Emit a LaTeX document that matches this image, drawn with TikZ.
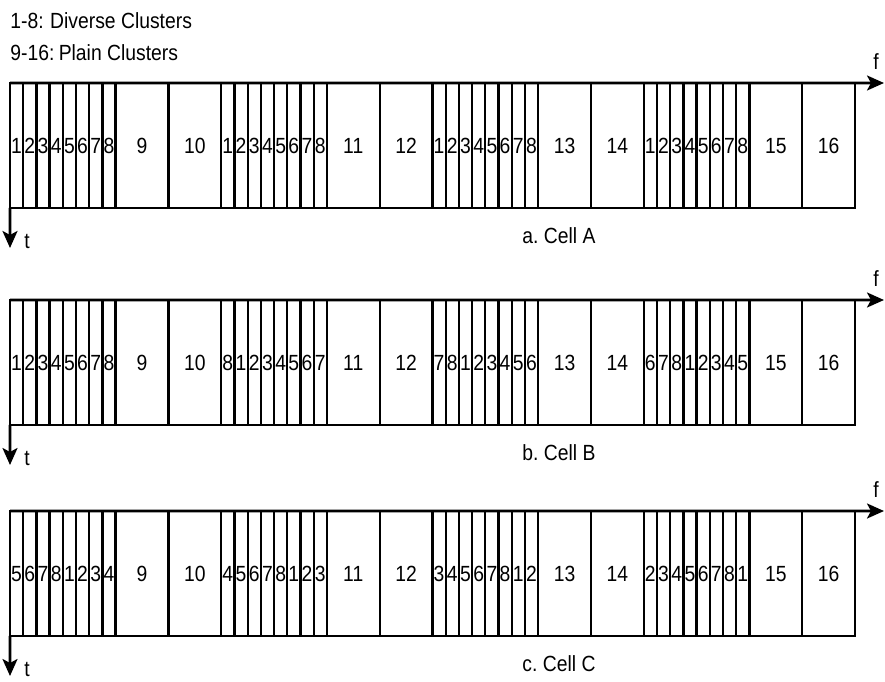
\documentclass[tikz,border=0pt]{standalone}
\usepackage{fontspec}
\setmainfont{Liberation Sans}[FakeStretch = 0.88]
\usetikzlibrary{arrows.meta}

\begin{document}
\begin{tikzpicture}[x = 0.02cm, y = -0.02cm,
  font = \fontsize{12.5}{14}\selectfont,
  cell/.style = {rectangle, draw, line width = 1.3pt, inner sep = 0pt, outer sep = 0pt, minimum height = 2.5cm, text height = 9pt, text depth = 0pt},
  narrowcell/.style = {cell, minimum width = 0.264cm},
  widecell/.style = {cell, minimum width = 1.056cm},
  axis/.style = {-{Stealth[length = 3.4mm, width = 3mm, inset = 0.8mm]}, line width = 1.5pt}]

\useasboundingbox (0, 0) rectangle (885, 682);

%%% Legend
\node[anchor = west, inner sep = 0pt] (legdiverse) at (10, 21) {1-8:\hspace{0.3em}Diverse Clusters};
\node[anchor = west, inner sep = 0pt] (legplain) at (10, 53) {9-16:\hspace{0.2em}Plain Clusters};

%%% Cells A, B, C
\foreach \cellrow/\ytop/\fst/\dsh/\celltext in {A/83/1/0/a.\ Cell A, B/300/1/1/b.\ Cell B, C/511/5/1/c.\ Cell C} {

  \foreach \p in {0, 1, 2, 3} {
    %% diverse clusters
    \foreach \k in {0, ..., 7} {
      \pgfmathtruncatemacro{\lab}{mod(\k + \fst - 1 - \dsh * \p + 16, 8) + 1}
      \node[narrowcell] (\cellrow-\p-\k) at ({10 + 211.25 * \p + 13.2 * (\k + 0.5)}, \ytop + 62.5) {\lab};
    }
    %% plain clusters
    \foreach \j in {0, 1} {
      \pgfmathtruncatemacro{\lab}{9 + 2 * \p + \j}
      \node[widecell] (\cellrow-w-\p-\j) at ({10 + 211.25 * \p + 105.6 + 52.8 * (\j + 0.5)}, \ytop + 62.5) {\lab};
    }
  }

  %% axes
  \coordinate (\cellrow-f) at (884, \ytop);
  \coordinate (\cellrow-t) at (10, \ytop + 165);
  \draw[axis] (\cellrow-0-0.north west) -- (\cellrow-f);
  \draw[axis] (\cellrow-0-0.south west) -- (\cellrow-t);
  \node (\cellrow-flab) at (876, \ytop - 21) {f};
  \node (\cellrow-tlab) at (27, \ytop + 158) {t};

  \node (\cellrow-cap) at (559, \ytop + 153) {\celltext};
}

\end{tikzpicture}
\end{document}
